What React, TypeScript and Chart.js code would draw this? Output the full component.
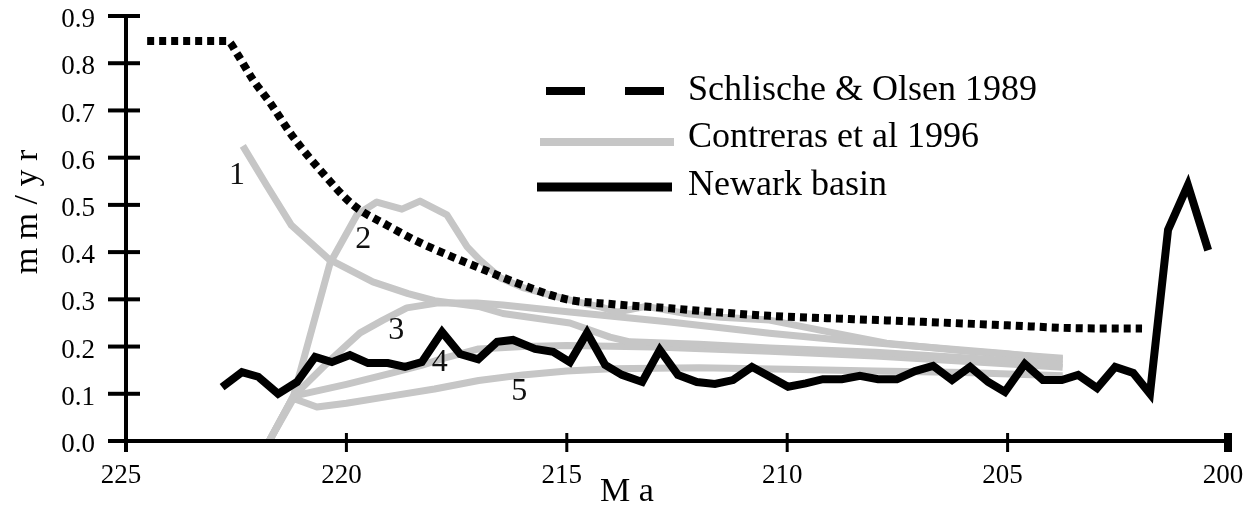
import React, { useEffect, useRef } from 'react';
import { Chart, registerables } from 'chart.js';

Chart.register(...registerables);

// ---- axis ticks ----
const xTickValues = [225, 220, 215, 210, 205, 200];
const yTickValues = [0, 0.1, 0.2, 0.3, 0.4, 0.5, 0.6, 0.7, 0.8, 0.9];

// ---- Schlische & Olsen 1989 (dotted) ----
const schlischeMa = [224.52, 222.7, 222.48, 222.12, 221.73, 221.21, 220.6, 219.85, 219.08, 218.33, 217.6, 216.97, 216.0, 215.0, 214.0, 212.66, 211.5, 210.4, 208.5, 206.8, 205.0, 203.5, 201.95];
const schlischeRate = [0.847, 0.847, 0.82, 0.765, 0.716, 0.644, 0.574, 0.5, 0.457, 0.42, 0.39, 0.366, 0.33, 0.3, 0.29, 0.281, 0.272, 0.265, 0.258, 0.252, 0.245, 0.239, 0.238];

// ---- Contreras et al 1996 (five grey curves) ----
const c1Ma = [222.35, 221.8, 221.25, 220.4, 219.4, 218.6, 218.0, 217.0, 216.45, 214.93, 214.02, 213.57, 212.0, 210.4, 208.0, 205.8, 203.75];
const c1Rate = [0.625, 0.54, 0.457, 0.385, 0.337, 0.312, 0.297, 0.285, 0.27, 0.25, 0.22, 0.21, 0.205, 0.197, 0.188, 0.175, 0.163];

const c2Ma = [221.75, 221.2, 220.37, 219.76, 219.31, 218.74, 218.33, 217.72, 217.26, 216.97, 216.5, 216.0, 215.0, 214.2, 213.86, 213.2, 212.3, 211.5, 210.4, 209.0, 207.75, 205.9, 203.75];
const c2Rate = [0.0, 0.095, 0.377, 0.479, 0.506, 0.491, 0.508, 0.479, 0.411, 0.383, 0.345, 0.325, 0.3, 0.283, 0.273, 0.285, 0.27, 0.262, 0.256, 0.23, 0.207, 0.19, 0.175];

const c3Ma = [221.75, 221.2, 220.37, 219.69, 219.17, 218.63, 217.95, 217.04, 216.45, 214.93, 212.66, 210.4, 208.8, 207.0, 205.0, 203.75];
const c3Rate = [0.0, 0.095, 0.171, 0.229, 0.256, 0.282, 0.292, 0.292, 0.288, 0.273, 0.252, 0.228, 0.214, 0.2, 0.185, 0.172];

const c4Ma = [221.75, 221.2, 220.0, 219.0, 218.3, 217.8, 217.0, 216.0, 215.0, 213.0, 210.4, 208.0, 205.8, 203.75];
const c4Rate = [0.0, 0.095, 0.12, 0.143, 0.16, 0.175, 0.195, 0.2, 0.202, 0.199, 0.19, 0.18, 0.168, 0.156];

const c5Ma = [221.75, 221.2, 220.67, 220.0, 219.0, 218.0, 217.0, 216.0, 215.0, 214.0, 212.0, 210.0, 208.0, 206.0, 203.75];
const c5Rate = [0.0, 0.09, 0.072, 0.08, 0.095, 0.11, 0.128, 0.14, 0.148, 0.153, 0.155, 0.152, 0.148, 0.145, 0.138];

// ---- Newark basin (solid black) ----
const newarkMa = [222.82, 222.37, 222.0, 221.55, 221.12, 220.71, 220.33, 219.92, 219.51, 219.06, 218.67, 218.29, 217.83, 217.42, 217.01, 216.58, 216.22, 215.72, 215.31, 214.93, 214.54, 214.13, 213.75, 213.29, 212.89, 212.48, 212.05, 211.64, 211.23, 210.8, 210.39, 209.98, 209.58, 209.19, 208.76, 208.35, 207.94, 207.51, 207.1, 206.69, 206.26, 205.85, 205.44, 205.06, 204.61, 204.2, 203.77, 203.4, 202.97, 202.56, 202.15, 201.77, 201.36, 200.91, 200.45];
const newarkRate = [0.114, 0.146, 0.136, 0.1, 0.125, 0.178, 0.167, 0.182, 0.165, 0.165, 0.157, 0.167, 0.231, 0.184, 0.173, 0.21, 0.214, 0.195, 0.189, 0.167, 0.229, 0.161, 0.14, 0.125, 0.193, 0.14, 0.125, 0.121, 0.129, 0.157, 0.136, 0.115, 0.122, 0.131, 0.131, 0.138, 0.131, 0.131, 0.148, 0.159, 0.129, 0.157, 0.125, 0.104, 0.163, 0.129, 0.129, 0.14, 0.112, 0.157, 0.144, 0.1, 0.447, 0.542, 0.404];

// ---- curve number labels (data coordinates) ----
const curveLabels = ['1', '2', '3', '4', '5'];
const curveLabelMa = [222.48, 219.62, 218.87, 217.88, 216.08];
const curveLabelRate = [0.563, 0.426, 0.233, 0.167, 0.104];

// ---- legend ----
const legendNames = ['Schlische & Olsen 1989', 'Contreras et al 1996', 'Newark basin'];

const FONT = '"Liberation Serif", "Times New Roman", serif';
const GREY = '#c6c6c6';

const pts = (xs: number[], ys: number[]) => xs.map((x, i) => ({ x, y: ys[i] }));

const decorPlugin = {
  id: 'decor',
  afterDraw(chart: any) {
    const { ctx, scales } = chart;
    const xs = scales.x;
    const ys = scales.y;
    ctx.save();
    ctx.strokeStyle = '#000';
    ctx.lineCap = 'butt';
    ctx.setLineDash([]);

    const x0 = xs.getPixelForValue(225);
    const x1 = xs.getPixelForValue(200);
    const yTop = ys.getPixelForValue(0.9);
    const yBot = ys.getPixelForValue(0);

    // axis lines
    ctx.lineWidth = 4;
    ctx.beginPath();
    ctx.moveTo(x0, yTop - 2);
    ctx.lineTo(x0, yBot + 11);
    ctx.stroke();
    ctx.beginPath();
    ctx.moveTo(x0 - 18, yBot);
    ctx.lineTo(x1 + 2, yBot);
    ctx.stroke();

    // y ticks (cross the axis)
    ctx.lineWidth = 4;
    yTickValues.forEach((v) => {
      const py = ys.getPixelForValue(v);
      ctx.beginPath();
      ctx.moveTo(x0 - 18, py);
      ctx.lineTo(x0 + 14, py);
      ctx.stroke();
    });
    // x ticks
    xTickValues.forEach((v) => {
      const px = xs.getPixelForValue(v);
      ctx.lineWidth = v === 200 ? 8 : 3;
      ctx.beginPath();
      ctx.moveTo(px, yBot - 8);
      ctx.lineTo(px, yBot + 11);
      ctx.stroke();
    });

    // curve labels
    ctx.fillStyle = '#111';
    ctx.font = `32px ${FONT}`;
    ctx.textAlign = 'center';
    ctx.textBaseline = 'middle';
    curveLabels.forEach((t, i) => {
      ctx.fillText(t, xs.getPixelForValue(curveLabelMa[i]), ys.getPixelForValue(curveLabelRate[i]));
    });

    // legend
    ctx.textAlign = 'left';
    ctx.textBaseline = 'alphabetic';
    ctx.font = `36px ${FONT}`;
    ctx.fillStyle = '#000';
    ctx.strokeStyle = '#000';
    ctx.lineWidth = 8;
    ctx.setLineDash([39, 40]);
    ctx.beginPath();
    ctx.moveTo(546, 91);
    ctx.lineTo(664, 91);
    ctx.stroke();
    ctx.setLineDash([]);
    ctx.fillText(legendNames[0], 688, 100);
    ctx.strokeStyle = GREY;
    ctx.lineWidth = 8;
    ctx.beginPath();
    ctx.moveTo(540, 142);
    ctx.lineTo(674, 142);
    ctx.stroke();
    ctx.fillText(legendNames[1], 688, 147);
    ctx.strokeStyle = '#000';
    ctx.lineWidth = 9;
    ctx.beginPath();
    ctx.moveTo(537, 187);
    ctx.lineTo(672, 187);
    ctx.stroke();
    ctx.fillText(legendNames[2], 688, 195);

    // axis titles
    ctx.font = `34px ${FONT}`;
    ctx.fillText('M a', 600, 501);
    ctx.save();
    ctx.translate(37, 212);
    ctx.rotate(-Math.PI / 2);
    ctx.textAlign = 'center';
    ctx.font = `34px ${FONT}`;
    ctx.fillText('m m / y r', 0, 0);
    ctx.restore();

    ctx.restore();
  },
};

export default function App() {
  const ref = useRef<HTMLCanvasElement | null>(null);

  useEffect(() => {
    if (!ref.current) return;
    const grey = (xs: number[], ys: number[], label: string) => ({
      label,
      data: pts(xs, ys),
      borderColor: GREY,
      borderWidth: 7,
      pointRadius: 0,
      tension: 0,
      fill: false,
      order: 2,
      borderJoinStyle: 'round' as const,
    });
    const chart = new Chart(ref.current, {
      type: 'line',
      data: {
        datasets: [
          {
            label: legendNames[2],
            data: pts(newarkMa, newarkRate),
            borderColor: '#000',
            borderWidth: 8,
            pointRadius: 0,
            tension: 0,
            fill: false,
            order: 0,
            borderJoinStyle: 'miter',
          },
          {
            label: legendNames[0],
            data: pts(schlischeMa, schlischeRate),
            borderColor: '#000',
            borderWidth: 8,
            borderDash: [7, 5],
            pointRadius: 0,
            cubicInterpolationMode: 'monotone',
            fill: false,
            order: 1,
          },
          grey(c1Ma, c1Rate, 'Contreras 1'),
          grey(c2Ma, c2Rate, 'Contreras 2'),
          grey(c3Ma, c3Rate, 'Contreras 3'),
          grey(c4Ma, c4Rate, 'Contreras 4'),
          grey(c5Ma, c5Rate, 'Contreras 5'),
        ],
      },
      options: {
        animation: false,
        responsive: false,
        devicePixelRatio: 1,
        layout: { padding: { left: 0, right: 23, top: 16, bottom: 0 } },
        plugins: { legend: { display: false }, tooltip: { enabled: false } },
        scales: {
          x: {
            type: 'linear',
            reverse: true,
            min: 200,
            max: 225,
            afterBuildTicks: (s: any) => {
              s.ticks = xTickValues.map((v) => ({ value: v }));
            },
            afterFit: (s: any) => {
              s.height = 67;
              s.paddingLeft = 0;
              s.paddingRight = 0;
              s.paddingTop = 0;
              s.paddingBottom = 0;
            },
            grid: { display: false, drawTicks: false },
            border: { display: false },
            ticks: {
              color: '#000',
              font: { family: FONT, size: 27 },
              padding: 19,
              labelOffset: -5,
              maxRotation: 0,
              autoSkip: false,
              callback: (v: any) => String(v),
            },
          },
          y: {
            type: 'linear',
            min: 0,
            max: 0.9,
            afterBuildTicks: (s: any) => {
              s.ticks = yTickValues.map((v) => ({ value: v }));
            },
            afterFit: (s: any) => {
              s.width = 126;
              s.paddingLeft = 0;
              s.paddingRight = 0;
              s.paddingTop = 0;
              s.paddingBottom = 0;
            },
            grid: { display: false, drawTicks: false },
            border: { display: false },
            ticks: {
              color: '#000',
              font: { family: FONT, size: 27 },
              padding: 31,
              labelOffset: 4,
              autoSkip: false,
              callback: (v: any) => Number(v).toFixed(1),
            },
          },
        },
      },
      plugins: [decorPlugin],
    });
    return () => chart.destroy();
  }, []);

  return (
    <div style={{ position: 'absolute', left: 0, top: 0, width: 1251, height: 508, background: '#fff' }}>
      <canvas ref={ref} width={1251} height={508} />
    </div>
  );
}
